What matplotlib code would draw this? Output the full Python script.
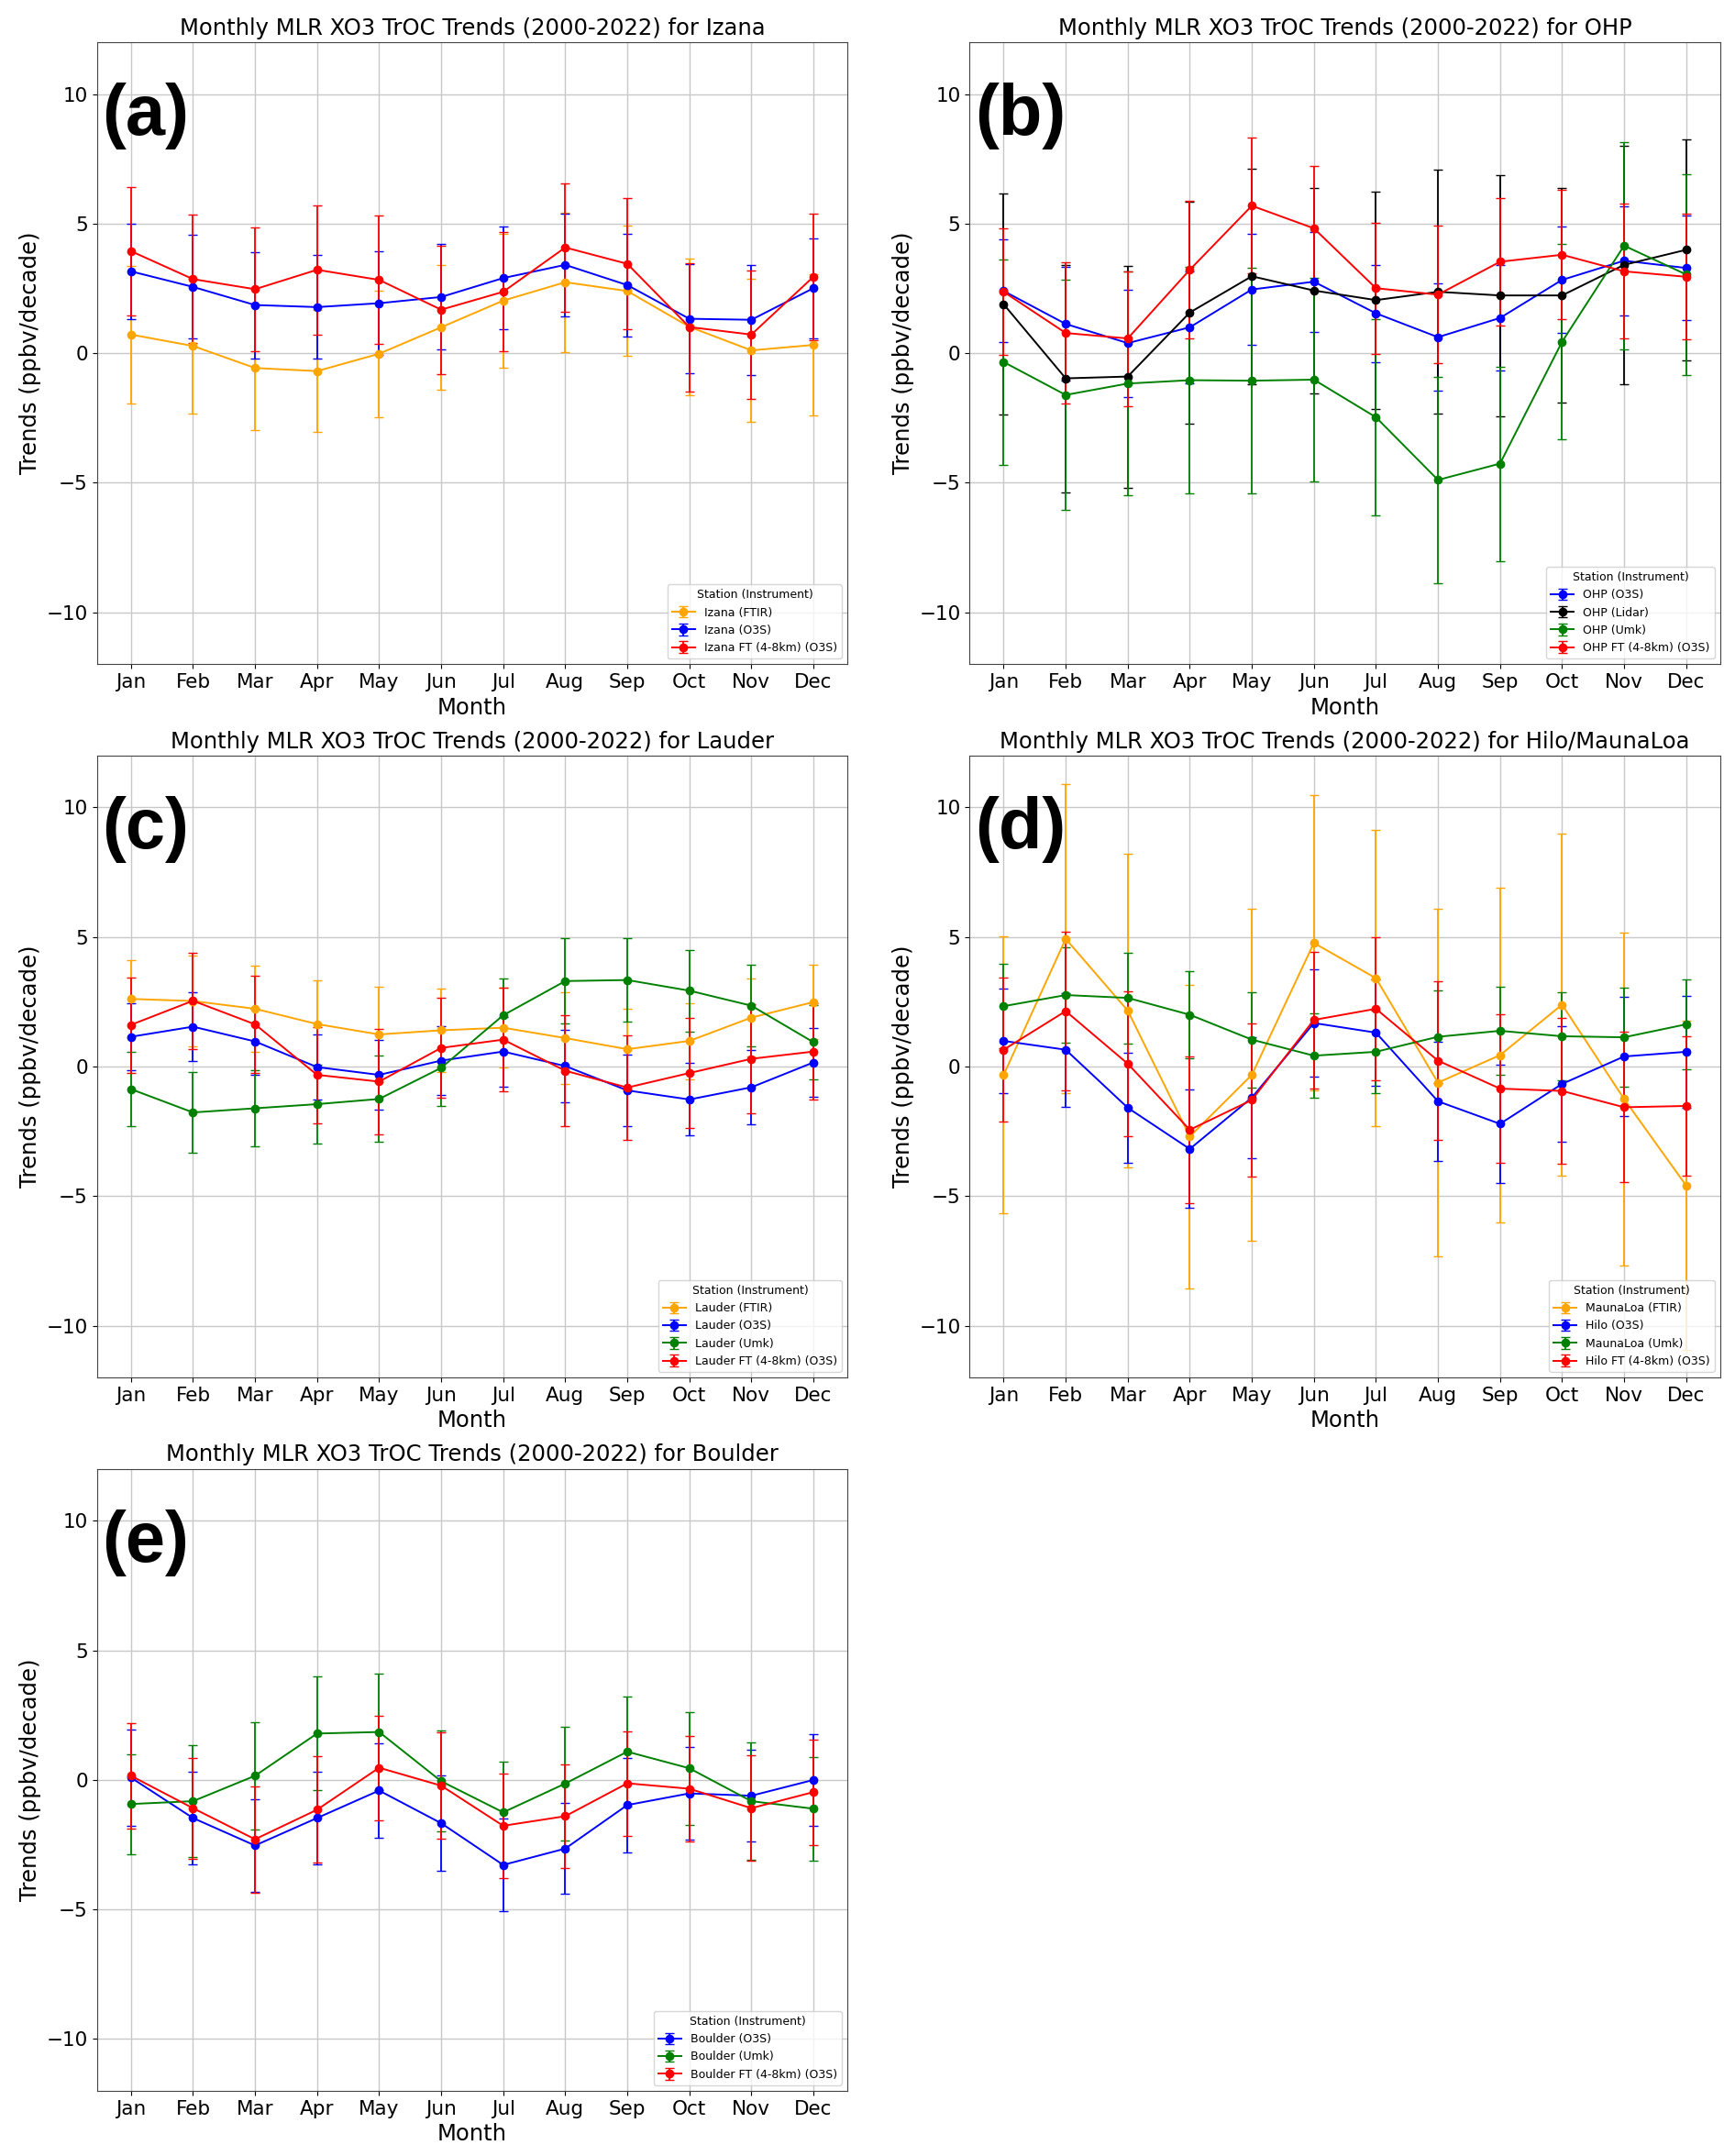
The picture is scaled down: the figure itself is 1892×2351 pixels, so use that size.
import matplotlib
matplotlib.use("Agg")
import matplotlib.pyplot as plt
import numpy as np

months = ['Jan', 'Feb', 'Mar', 'Apr', 'May', 'Jun',
          'Jul', 'Aug', 'Sep', 'Oct', 'Nov', 'Dec']

# (a) Izana
izana_ftir = [0.72, 0.28, -0.57, -0.69, -0.02, 1.00, 2.03, 2.74, 2.40, 1.02, 0.11, 0.32]
izana_ftir_err = [2.66, 2.60, 2.40, 2.35, 2.44, 2.42, 2.58, 2.69, 2.51, 2.63, 2.75, 2.72]
izana_o3s = [3.16, 2.56, 1.86, 1.78, 1.93, 2.17, 2.90, 3.41, 2.63, 1.33, 1.29, 2.51]
izana_o3s_err = [1.84, 2.00, 2.05, 2.00, 2.00, 2.03, 1.98, 1.98, 1.97, 2.10, 2.12, 1.93]
izana_ft = [3.94, 2.86, 2.47, 3.22, 2.83, 1.68, 2.37, 4.08, 3.45, 1.01, 0.72, 2.95]
izana_ft_err = [2.47, 2.48, 2.40, 2.50, 2.47, 2.48, 2.30, 2.48, 2.53, 2.48, 2.48, 2.44]

# (b) OHP
ohp_o3s = [2.40, 1.13, 0.39, 1.00, 2.46, 2.76, 1.54, 0.62, 1.36, 2.83, 3.57, 3.29]
ohp_o3s_err = [1.98, 2.20, 2.07, 2.15, 2.15, 1.93, 1.88, 2.08, 2.04, 2.06, 2.10, 2.02]
ohp_lidar = [1.89, -0.97, -0.90, 1.57, 2.97, 2.42, 2.05, 2.37, 2.23, 2.23, 3.41, 3.99]
ohp_lidar_err = [4.26, 4.39, 4.28, 4.28, 4.15, 3.96, 4.20, 4.70, 4.65, 4.15, 4.60, 4.25]
ohp_umk = [-0.34, -1.61, -1.17, -1.04, -1.06, -1.02, -2.47, -4.89, -4.26, 0.44, 4.15, 3.04]
ohp_umk_err = [3.96, 4.44, 4.31, 4.37, 4.35, 3.94, 3.80, 3.97, 3.75, 3.77, 4.00, 3.88]
ohp_ft = [2.37, 0.78, 0.57, 3.22, 5.69, 4.82, 2.51, 2.26, 3.53, 3.80, 3.16, 2.95]
ohp_ft_err = [2.45, 2.73, 2.60, 2.65, 2.62, 2.42, 2.53, 2.65, 2.46, 2.50, 2.60, 2.42]

# (c) Lauder
lauder_ftir = [2.61, 2.53, 2.23, 1.64, 1.24, 1.40, 1.50, 1.10, 0.67, 0.99, 1.89, 2.49]
lauder_ftir_err = [1.49, 1.75, 1.68, 1.68, 1.85, 1.62, 1.54, 1.78, 1.57, 1.47, 1.50, 1.43]
lauder_o3s = [1.15, 1.54, 0.97, -0.02, -0.32, 0.23, 0.58, 0.02, -0.92, -1.27, -0.80, 0.16]
lauder_o3s_err = [1.29, 1.34, 1.27, 1.27, 1.33, 1.33, 1.35, 1.40, 1.39, 1.40, 1.43, 1.33]
lauder_umk = [-0.87, -1.77, -1.61, -1.45, -1.25, -0.05, 1.98, 3.30, 3.34, 2.93, 2.35, 0.94]
lauder_umk_err = [1.43, 1.55, 1.48, 1.53, 1.66, 1.46, 1.42, 1.64, 1.62, 1.57, 1.57, 1.42]
lauder_ft = [1.61, 2.54, 1.63, -0.32, -0.58, 0.72, 1.04, -0.16, -0.81, -0.25, 0.30, 0.58]
lauder_ft_err = [1.84, 1.85, 1.87, 1.86, 2.05, 1.93, 1.99, 2.14, 2.03, 2.12, 2.10, 1.85]

# (d) Hilo / MaunaLoa
mlo_ftir = [-0.32, 4.93, 2.16, -2.70, -0.32, 4.77, 3.41, -0.62, 0.44, 2.39, -1.25, -4.59]
mlo_ftir_err = [5.35, 5.97, 6.04, 5.85, 6.40, 5.70, 5.72, 6.70, 6.45, 6.60, 6.42, 6.36]
hilo_o3s = [0.99, 0.65, -1.59, -3.18, -1.20, 1.68, 1.31, -1.34, -2.21, -0.67, 0.39, 0.57]
hilo_o3s_err = [2.02, 2.20, 2.13, 2.28, 2.35, 2.07, 2.04, 2.30, 2.27, 2.23, 2.30, 2.17]
mlo_umk = [2.33, 2.76, 2.65, 2.00, 1.04, 0.42, 0.57, 1.15, 1.38, 1.17, 1.13, 1.63]
mlo_umk_err = [1.63, 1.85, 1.75, 1.68, 1.84, 1.62, 1.60, 1.80, 1.69, 1.71, 1.90, 1.75]
hilo_ft = [0.65, 2.14, 0.11, -2.44, -1.29, 1.80, 2.23, 0.23, -0.85, -0.94, -1.57, -1.52]
hilo_ft_err = [2.77, 3.05, 2.80, 2.83, 2.96, 2.64, 2.76, 3.06, 2.86, 2.82, 2.90, 2.68]

# (e) Boulder
boulder_o3s = [0.09, -1.47, -2.53, -1.47, -0.41, -1.67, -3.28, -2.65, -0.97, -0.52, -0.61, 0.00]
boulder_o3s_err = [1.86, 1.80, 1.78, 1.80, 1.82, 1.83, 1.80, 1.75, 1.83, 1.80, 1.78, 1.76]
boulder_umk = [-0.93, -0.82, 0.16, 1.79, 1.85, -0.05, -1.25, -0.14, 1.09, 0.45, -0.82, -1.11]
boulder_umk_err = [1.93, 2.15, 2.06, 2.20, 2.24, 1.95, 1.96, 2.20, 2.12, 2.18, 2.27, 2.00]
boulder_ft = [0.16, -1.09, -2.29, -1.15, 0.47, -0.22, -1.77, -1.40, -0.13, -0.34, -1.09, -0.47]
boulder_ft_err = [2.03, 1.95, 2.05, 2.05, 2.02, 2.04, 2.03, 2.01, 2.02, 2.03, 2.03, 2.04]

panels = [
    ('Izana', '(a)', [
        ('Izana (FTIR)', izana_ftir, izana_ftir_err, 'orange'),
        ('Izana (O3S)', izana_o3s, izana_o3s_err, 'blue'),
        ('Izana FT (4-8km) (O3S)', izana_ft, izana_ft_err, 'red'),
    ]),
    ('OHP', '(b)', [
        ('OHP (O3S)', ohp_o3s, ohp_o3s_err, 'blue'),
        ('OHP (Lidar)', ohp_lidar, ohp_lidar_err, 'black'),
        ('OHP (Umk)', ohp_umk, ohp_umk_err, 'green'),
        ('OHP FT (4-8km) (O3S)', ohp_ft, ohp_ft_err, 'red'),
    ]),
    ('Lauder', '(c)', [
        ('Lauder (FTIR)', lauder_ftir, lauder_ftir_err, 'orange'),
        ('Lauder (O3S)', lauder_o3s, lauder_o3s_err, 'blue'),
        ('Lauder (Umk)', lauder_umk, lauder_umk_err, 'green'),
        ('Lauder FT (4-8km) (O3S)', lauder_ft, lauder_ft_err, 'red'),
    ]),
    ('Hilo/MaunaLoa', '(d)', [
        ('MaunaLoa (FTIR)', mlo_ftir, mlo_ftir_err, 'orange'),
        ('Hilo (O3S)', hilo_o3s, hilo_o3s_err, 'blue'),
        ('MaunaLoa (Umk)', mlo_umk, mlo_umk_err, 'green'),
        ('Hilo FT (4-8km) (O3S)', hilo_ft, hilo_ft_err, 'red'),
    ]),
    ('Boulder', '(e)', [
        ('Boulder (O3S)', boulder_o3s, boulder_o3s_err, 'blue'),
        ('Boulder (Umk)', boulder_umk, boulder_umk_err, 'green'),
        ('Boulder FT (4-8km) (O3S)', boulder_ft, boulder_ft_err, 'red'),
    ]),
]

fig, axes = plt.subplots(3, 2, figsize=(18.92, 23.51), dpi=100)
fig.subplots_adjust(left=0.0558, right=0.9915, top=0.9804, bottom=0.0302,
                    wspace=0.1625, hspace=0.147)
axes = axes.flatten()
axes[5].remove()

x = np.arange(len(months))
for ax, (station, tag, series) in zip(axes, panels):
    for label, vals, errs, color in series:
        ax.errorbar(x, vals, yerr=errs, fmt='-o', color=color, label=label,
                    lw=1.4, elinewidth=1.3, ms=6, capsize=3.6)
    ax.set_ylim(-12, 12)
    ax.set_xticks(x)
    ax.set_xticklabels(months)
    ax.tick_params(labelsize=15.5)
    ax.grid(True, color='#c8c8c8', lw=1.0)
    ax.set_axisbelow(True)
    for sp in ax.spines.values():
        sp.set_color('#444444')
    ax.set_title(f'Monthly MLR XO3 TrOC Trends (2000-2022) for {station}', fontsize=17.5)
    ax.set_xlabel('Month', fontsize=17.5)
    ax.set_ylabel('Trends (ppbv/decade)', fontsize=17.5)
    ax.legend(title='Station (Instrument)', loc='lower right',
              fontsize=9, title_fontsize=9)
    ax.text(0.007, 0.935, tag, transform=ax.transAxes, fontsize=56,
            fontweight='bold', family=['Liberation Sans', 'DejaVu Sans'],
            va='top', ha='left')

fig.savefig('out.png', dpi=100)
